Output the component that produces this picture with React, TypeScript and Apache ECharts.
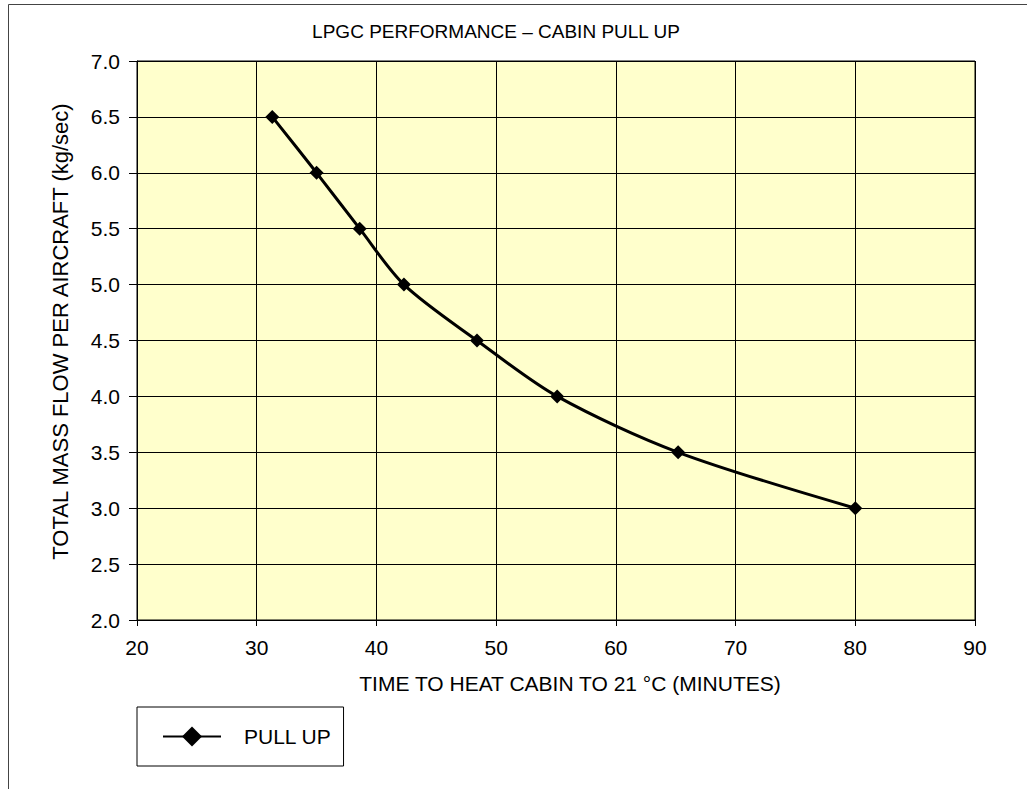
import React, { useEffect, useRef } from "react";
import * as echarts from "echarts";

const timeMinutes = [31.3, 35.0, 38.6, 42.3, 48.4, 55.1, 65.2, 80.0];
const massFlow = [6.5, 6.0, 5.5, 5.0, 4.5, 4.0, 3.5, 3.0];
const seriesName = "PULL UP";
const titleText = "LPGC PERFORMANCE \u2013 CABIN PULL UP";
const xAxisName = "TIME TO HEAT CABIN TO 21 \u00B0C (MINUTES)";
const yAxisName = "TOTAL MASS FLOW PER AIRCRAFT (kg/sec)";

const FONT = "'Liberation Sans', Arial, Helvetica, sans-serif";

export default function App() {
  const ref = useRef<HTMLDivElement>(null);
  useEffect(() => {
    if (!ref.current) return;
    const chart = echarts.init(ref.current, undefined, { renderer: "svg" });
    const data = timeMinutes.map((x, i) => [x, massFlow[i]]);
    chart.setOption({
      animation: false,
      backgroundColor: "#ffffff",
      textStyle: { fontFamily: FONT, color: "#000" },
      title: {
        text: titleText,
        left: 496,
        top: 22,
        padding: 0,
        textAlign: "center",
        textStyle: { fontFamily: FONT, fontSize: 19, fontWeight: "normal", color: "#000" },
      },
      graphic: [
        {
          type: "polyline",
          shape: { points: [[8.5, 800], [8.5, 4.5], [1030, 4.5]] },
          style: { stroke: "#444", lineWidth: 1, fill: "none" },
          silent: true,
        },
      ],
      legend: {
        left: 137,
        top: 707,
        orient: "vertical",
        data: [seriesName],
        borderColor: "#000",
        borderWidth: 1,
        padding: [19, 12, 19, 25],
        itemWidth: 58,
        itemHeight: 25,
        textStyle: { fontFamily: FONT, fontSize: 21, color: "#000", padding: [0, 0, 0, 18] },
      },
      grid: {
        left: 137,
        top: 61,
        right: 52,
        bottom: 169,
        show: true,
        backgroundColor: "#ffffcc",
        borderColor: "#000",
        borderWidth: 1,
      },
      xAxis: {
        type: "value",
        min: 20,
        max: 90,
        interval: 10,
        name: xAxisName,
        nameLocation: "middle",
        nameGap: 53,
        nameMoveOverlap: false,
        nameTextStyle: { fontFamily: FONT, fontSize: 21, color: "#000", padding: [0, 0, 0, 28] },
        axisLine: { show: true, lineStyle: { color: "#000", width: 1 } },
        axisTick: { show: true, inside: false, length: 6, lineStyle: { color: "#000" } },
        axisLabel: { fontFamily: FONT, fontSize: 21, color: "#000", margin: 17 },
        splitLine: { show: true, lineStyle: { color: "#000", width: 1 } },
      },
      yAxis: {
        type: "value",
        min: 2,
        max: 7,
        interval: 0.5,
        name: yAxisName,
        nameLocation: "middle",
        nameGap: 66,
        nameMoveOverlap: false,
        nameTextStyle: { fontFamily: FONT, fontSize: 22, color: "#000", padding: [0, 0, 0, 18] },
        axisLine: { show: true, lineStyle: { color: "#000", width: 1 } },
        axisTick: { show: true, inside: false, length: 8, lineStyle: { color: "#000" } },
        axisLabel: {
          fontFamily: FONT,
          fontSize: 21,
          color: "#000",
          margin: 17,
          formatter: (v: number) => v.toFixed(1),
        },
        splitLine: { show: true, lineStyle: { color: "#000", width: 1 } },
      },
      series: [
        {
          name: seriesName,
          type: "line",
          data,
          smooth: 0.3,
          symbol: "diamond",
          symbolSize: 14,
          lineStyle: { color: "#000", width: 3 },
          itemStyle: { color: "#000" },
        },
      ],
    });
    return () => chart.dispose();
  }, []);
  return (
    <div
      ref={ref}
      style={{ position: "fixed", left: 0, top: 0, width: 1027, height: 789 }}
    />
  );
}
